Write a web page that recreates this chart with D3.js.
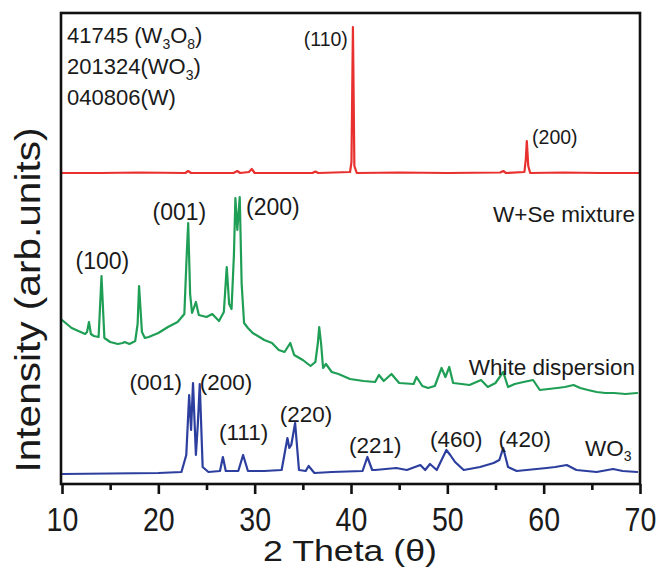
<!DOCTYPE html>
<html>
<head>
<meta charset="utf-8">
<script src="https://cdn.jsdelivr.net/npm/d3@7"></script>
<style>
  html, body { margin: 0; padding: 0; background: #fff; }
  svg { display: block; }
  text { font-family: "Liberation Sans", Arial, sans-serif; fill: #1a1a1a; }
</style>
</head>
<body>
<svg id="chart" width="656" height="569"></svg>
<script>
// ---------------- data ----------------
const xTicks = [10, 20, 30, 40, 50, 60, 70];
const xMinorTicks = [15, 25, 35, 45, 55, 65];

// W + Se mixture (red) : [2theta, intensity]
const redSeries = [[10,311],[14,311],[18,311.5],[22.8,311],[23.1,313],[23.4,311],[27.8,311],[28.2,313],[28.5,311],[29.4,312],[29.7,315],[30.0,311],[33,311],[36.0,311],[36.3,312.5],[36.6,311],[39.9,312],[40.05,322],[40.2,457],[40.35,318],[40.6,311],[45,311.5],[50,311],[55.5,311.5],[55.8,313],[56.1,311],[58.0,312],[58.15,325],[58.25,343],[58.4,318],[58.6,311],[62,311.5],[66,311],[70,311]];

// White dispersion (green)
const greenSeries = [[10.0,164],[10.5,160],[11.0,156],[11.7,153],[12.4,150],[12.6,152],[12.8,162],[13.0,150],[13.3,148],[13.8,147],[14.1,208],[14.4,146],[15.0,142],[15.8,140],[16.3,141],[16.5,142],[17.0,140],[17.6,143],[17.85,160],[18.0,198],[18.3,152],[18.6,146],[19.0,147],[20.0,151],[21.0,157],[22.0,162],[22.7,170],[22.95,230],[23.1,261],[23.3,190],[23.5,171],[23.9,182],[24.2,169],[25.0,167],[25.6,170],[26.3,163],[26.8,172],[27.1,217],[27.35,180],[27.6,175],[27.85,230],[28.0,286],[28.2,254],[28.45,287],[28.65,200],[28.9,161],[29.3,156],[29.8,151],[30.5,147],[31.0,144],[31.8,141],[32.5,134],[33.1,132],[33.7,141],[34.1,129],[35.0,124],[35.8,118],[36.3,122],[36.55,140],[36.7,157],[36.9,140],[37.1,116],[37.4,120],[38.0,112],[38.7,110],[39.9,105],[41.3,103],[42.5,102],[42.9,109],[43.4,103],[44.2,110],[45.0,101],[46.5,100],[46.8,107],[47.4,98],[48.0,96],[48.7,98],[49.4,116],[49.8,107],[50.2,117],[50.6,101],[51.5,100],[52.3,99],[53.5,104],[54.2,97],[55.0,101],[55.8,112],[56.3,97],[57.0,100],[57.9,102],[58.9,104],[59.6,94],[60.5,95],[61.4,96],[62.2,97],[63.1,99],[63.8,96],[64.6,94],[65.5,92],[66.4,91],[67.3,91],[68.5,90],[69.7,91]];

// WO3 (blue)
const blueSeries = [[10,10],[15,10.5],[20,11],[22.4,12],[22.9,29],[23.2,89],[23.4,54],[23.6,101],[23.9,29],[24.1,60],[24.3,100],[24.6,17],[25.2,12],[26.4,13],[26.7,27],[27.0,13],[28.3,13],[28.8,29],[29.3,13],[31,13],[32.8,14],[33.4,46],[33.6,36],[33.8,39],[34.2,61],[34.6,14],[35.3,13],[35.6,18],[36.2,11],[38,12],[41.2,13],[41.7,27],[42.2,14],[42.5,14],[44.7,16],[45.8,14],[47.2,19],[47.7,14],[48.2,20],[48.9,14],[49.6,28],[49.9,34],[50.3,29],[50.8,22],[51.7,14],[53.4,17],[54.1,19],[54.8,21],[55.4,24],[55.8,36],[56.3,17],[57.2,13],[60.3,16],[61.2,17],[62.4,19],[63.4,14],[65.5,12],[67.2,15],[68.2,13],[69.7,12]];

// peak labels: [text, 2theta of label's left edge, intensity at baseline]
const redPeakLabels   = [["(110)", 35.1, 438], ["(200)", 58.8, 340]];
const greenPeakLabels = [["(100)", 11.4, 215], ["(001)", 19.4, 264], ["(200)", 29.1, 269]];
const bluePeakLabels  = [["(001)", 17.0, 94], ["(200)", 24.3, 94], ["(111)", 26.3, 44], ["(220)", 32.6, 62], ["(221)", 39.8, 31], ["(460)", 48.2, 37], ["(420)", 55.3, 37]];
const seriesNames = ["W+Se mixture", "White dispersion", "WO"];

// ---------------- layout ----------------
const svg = d3.select("#chart");
const m = { left: 61, right: 640, top: 13, bottom: 484 };

const x = d3.scaleLinear().domain([10, 70]).range([m.left + 1, m.right]);
const y = d3.scaleLinear().domain([0, 471]).range([m.bottom, m.top]);

const lineGen = d3.line().x(d => x(d[0])).y(d => y(d[1]));

function drawSeries(data, color) {
  svg.append("path").datum(data).attr("d", lineGen)
    .attr("fill", "none").attr("stroke", color).attr("stroke-width", 2.2)
    .attr("stroke-linejoin", "round").attr("stroke-linecap", "round");
}
drawSeries(redSeries, "#e8302e");
drawSeries(greenSeries, "#1f9e55");
drawSeries(blueSeries, "#2d3f9e");

// frame
svg.append("rect")
  .attr("x", m.left).attr("y", m.top)
  .attr("width", m.right - m.left).attr("height", m.bottom - m.top)
  .attr("fill", "none").attr("stroke", "#111").attr("stroke-width", 2.6);

// x axis
const xAxis = d3.axisBottom(x).tickValues(xTicks).tickSize(10).tickFormat(d3.format("d"));
const gx = svg.append("g").attr("transform", `translate(0,${m.bottom})`).call(xAxis);
gx.select(".domain").remove();
gx.selectAll(".tick line").attr("stroke", "#111").attr("stroke-width", 2.6);
gx.selectAll(".tick text")
  .attr("font-size", 34).attr("fill", "#1a1a1a")
  .attr("y", 47).attr("dy", 0)
  .attr("transform", "scale(0.84,1)")
  .style("font-family", "'Liberation Sans', Arial, sans-serif");

const xMinor = d3.axisBottom(x).tickValues(xMinorTicks).tickSize(6).tickFormat("");
const gxm = svg.append("g").attr("transform", `translate(0,${m.bottom})`).call(xMinor);
gxm.select(".domain").remove();
gxm.selectAll(".tick line").attr("stroke", "#111").attr("stroke-width", 2.6);

// axis titles
svg.append("text")
  .attr("x", 350).attr("y", 561)
  .attr("text-anchor", "middle")
  .attr("font-size", 29)
  .attr("textLength", 174).attr("lengthAdjust", "spacingAndGlyphs")
  .text("2 Theta (θ)");

svg.append("text")
  .attr("transform", "translate(40,300) rotate(-90)")
  .attr("text-anchor", "middle")
  .attr("font-size", 35)
  .attr("textLength", 345).attr("lengthAdjust", "spacingAndGlyphs")
  .text("Intensity (arb.units)");

// reference card legend (top-left)
const legend = svg.append("g").attr("font-size", 22);
const l1 = legend.append("text").attr("x", 67).attr("y", 43);
l1.append("tspan").text("41745 (W");
l1.append("tspan").attr("font-size", 14).attr("dy", 6).text("3");
l1.append("tspan").attr("dy", -6).text("O");
l1.append("tspan").attr("font-size", 14).attr("dy", 6).text("8");
l1.append("tspan").attr("dy", -6).text(")");
const l2 = legend.append("text").attr("x", 67).attr("y", 74);
l2.append("tspan").text("201324(WO");
l2.append("tspan").attr("font-size", 14).attr("dy", 6).text("3");
l2.append("tspan").attr("dy", -6).text(")");
legend.append("text").attr("x", 67).attr("y", 105).text("040806(W)");

// series names
svg.append("text").attr("x", 635).attr("y", 222).attr("text-anchor", "end").attr("font-size", 22.5).text(seriesNames[0]);
svg.append("text").attr("x", 635).attr("y", 375).attr("text-anchor", "end").attr("font-size", 22.5).text(seriesNames[1]);
const wo = svg.append("text").attr("x", 585).attr("y", 456).attr("font-size", 22.5);
wo.append("tspan").text(seriesNames[2]);
wo.append("tspan").attr("font-size", 14).attr("dy", 5).text("3");

// peak labels
svg.append("g").selectAll("text").data(redPeakLabels).join("text")
  .attr("x", d => x(d[1])).attr("y", d => y(d[2])).attr("font-size", 19.5).text(d => d[0]);
svg.append("g").selectAll("text").data(greenPeakLabels).join("text")
  .attr("x", d => x(d[1])).attr("y", d => y(d[2])).attr("font-size", 23).text(d => d[0]);
svg.append("g").selectAll("text").data(bluePeakLabels).join("text")
  .attr("x", d => x(d[1])).attr("y", d => y(d[2])).attr("font-size", 22.5).text(d => d[0]);
</script>
</body>
</html>
